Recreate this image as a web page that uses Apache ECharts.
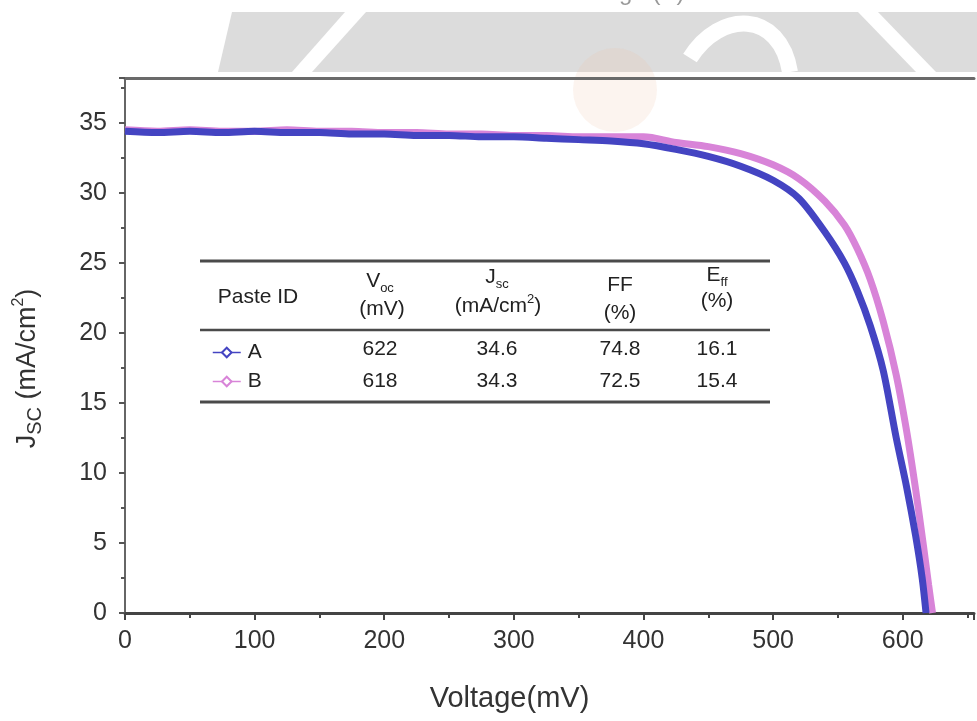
<!DOCTYPE html>
<html>
<head>
<meta charset="utf-8">
<script src="https://cdn.jsdelivr.net/npm/echarts@6/dist/echarts.min.js"></script>
<style>
  html, body { margin: 0; padding: 0; background: #fff; }
  #main { width: 977px; height: 721px; }
</style>
</head>
<body>
<div id="main"></div>
<script>
// Voltage (mV) / current density (mA/cm2)
var voltA = [0, 25, 50, 75, 100, 125, 150, 175, 200, 225, 250, 275, 300, 325, 350, 375, 400, 425, 450, 475, 500, 520, 540, 555, 565, 575, 585, 595, 603, 610, 615, 618];
var jA    = [34.4, 34.3, 34.4, 34.3, 34.4, 34.3, 34.3, 34.2, 34.2, 34.1, 34.1, 34.0, 34.0, 33.9, 33.8, 33.7, 33.5, 33.1, 32.6, 31.9, 30.9, 29.6, 27.2, 25.0, 23.0, 20.5, 17.3, 12.5, 9.0, 5.5, 2.5, 0];
var voltB = [0, 25, 50, 75, 100, 125, 150, 175, 200, 225, 250, 275, 300, 325, 350, 375, 400, 425, 450, 475, 500, 520, 540, 555, 565, 575, 585, 595, 603, 610, 616, 620, 623];
var jB    = [34.5, 34.4, 34.5, 34.4, 34.4, 34.5, 34.4, 34.4, 34.3, 34.3, 34.2, 34.2, 34.1, 34.1, 34.0, 34.0, 34.0, 33.6, 33.3, 32.8, 32.0, 31.0, 29.4, 27.7, 26.0, 23.8, 20.8, 17.0, 13.0, 8.8, 4.8, 2.0, 0];

// inset table
var pasteIds = ['A', 'B'];
var vocVals  = ['622', '618'];
var jscVals  = ['34.6', '34.3'];
var ffVals   = ['74.8', '72.5'];
var effVals  = ['16.1', '15.4'];

var FONT = '"Liberation Sans", Arial, sans-serif';
var blue = '#4444c2';
var pink = '#d884d8';

function pairs(xs, ys) {
  return xs.map(function (x, i) { return [x, ys[i]]; });
}

var chart = echarts.init(document.getElementById('main'));

// table pieces
var tableX = { id: 258, voc: 380, jsc: 497, ff: 620, eff: 717 };
var rowY = [349, 381];
var tFont = '21px ' + FONT;
var sFont = '13px ' + FONT;

function txt(x, y, s, extra) {
  var o = { type: 'text', x: x, y: y, z: 100,
    style: { text: s, font: tFont, fill: '#222', align: 'center', verticalAlign: 'middle' } };
  if (extra) o.style.rich = extra;
  return o;
}
var subRich = {
  m: { font: tFont, fill: '#222' },
  s: { font: sFont, fill: '#222', verticalAlign: 'bottom', lineHeight: 28 }
};
var supRich = {
  m: { font: tFont, fill: '#222' },
  p: { font: sFont, fill: '#222', verticalAlign: 'top', lineHeight: 26 }
};

var graphics = [
  // faded watermark above the frame
  { type: 'polygon', z: -10, shape: { points: [[232, 12], [977, 12], [977, 72], [218, 72]] }, style: { fill: '#dcdcdc' } },
  { type: 'polygon', z: -9, shape: { points: [[345, 12], [366, 12], [312, 72], [292, 72]] }, style: { fill: '#fff' } },
  { type: 'polygon', z: -9, shape: { points: [[858, 12], [878, 12], [936, 72], [916, 72]] }, style: { fill: '#fff' } },
  { type: 'bezierCurve', z: -9, shape: { x1: 690, y1: 58, cpx1: 720, cpy1: 10, cpx2: 780, cpy2: 10, x2: 790, y2: 72 },
    style: { stroke: '#fff', lineWidth: 16, fill: null } },
  { type: 'circle', z: -8, shape: { cx: 615, cy: 90, r: 42 }, style: { fill: 'rgba(238,196,166,0.18)' } },
  { type: 'text', x: 625, y: -7, z: -7, style: { text: 'Voltage (V)', font: '24px ' + FONT, fill: '#999', align: 'center', verticalAlign: 'middle' } },

  // table rules
  { type: 'line', z: 100, shape: { x1: 200, y1: 261, x2: 770, y2: 261 }, style: { stroke: '#4a4a4a', lineWidth: 3 } },
  { type: 'line', z: 100, shape: { x1: 200, y1: 330, x2: 770, y2: 330 }, style: { stroke: '#4a4a4a', lineWidth: 2.5 } },
  { type: 'line', z: 100, shape: { x1: 200, y1: 402, x2: 770, y2: 402 }, style: { stroke: '#4a4a4a', lineWidth: 3 } },

  // headers
  txt(tableX.id, 297, 'Paste ID'),
  txt(tableX.voc, 281, '{m|V}{s|oc}', subRich),
  txt(tableX.voc + 2, 309, '(mV)'),
  txt(tableX.jsc, 277, '{m|J}{s|sc}', subRich),
  txt(tableX.jsc + 1, 306, '{m|(mA/cm}{p|2}{m|)}', supRich),
  txt(tableX.ff, 285, 'FF'),
  txt(tableX.ff, 313, '(%)'),
  txt(tableX.eff, 275, '{m|E}{s|ff}', subRich),
  txt(tableX.eff, 301, '(%)')
];

for (var i = 0; i < pasteIds.length; i++) {
  graphics.push(txt(tableX.voc, rowY[i], vocVals[i]));
  graphics.push(txt(tableX.jsc, rowY[i], jscVals[i]));
  graphics.push(txt(tableX.ff, rowY[i], ffVals[i]));
  graphics.push(txt(tableX.eff, rowY[i], effVals[i]));
}

var option = {
  backgroundColor: '#fff',
  animation: false,
  textStyle: { fontFamily: FONT },
  grid: { left: 125, right: 0, top: 78, bottom: 108, containLabel: false },
  legend: {
    data: pasteIds,
    orient: 'vertical',
    left: 207,
    top: 337,
    itemGap: 8,
    itemWidth: 28,
    itemHeight: 12,
    z: 110,
    textStyle: { fontSize: 21, color: '#222', fontFamily: FONT, padding: [0, 0, 0, 2] },
    lineStyle: { width: 1.5 },
    selectedMode: false
  },
  xAxis: [{
    type: 'value',
    min: 0,
    max: 655,
    interval: 100,
    position: 'bottom',
    name: 'Voltage(mV)',
    nameLocation: 'middle',
    nameGap: 71,
    nameTextStyle: { fontSize: 29, color: '#333', fontFamily: FONT, padding: [0, 80, 0, 0] },
    axisLine: { lineStyle: { color: '#444', width: 3 } },
    axisTick: { length: 7, lineStyle: { color: '#444', width: 2 } },
    minorTick: { show: true, splitNumber: 2, length: 5, lineStyle: { color: '#444', width: 2 } },
    axisLabel: {
      margin: 16, fontSize: 25, color: '#333', fontFamily: FONT,
      formatter: function (v) { return v % 100 === 0 ? String(v) : ''; }
    },
    splitLine: { show: false }
  }, {
    type: 'value',
    min: 0,
    max: 655,
    position: 'top',
    axisLine: { lineStyle: { color: '#6a6a6a', width: 3 } },
    axisTick: { show: false },
    axisLabel: { show: false },
    splitLine: { show: false }
  }],
  yAxis: {
    type: 'value',
    min: 0,
    max: 38.2,
    interval: 5,
    name: '{m|J}{s|SC}{m| (mA/cm}{p|2}{m|)}',
    nameLocation: 'middle',
    nameGap: 80,
    nameTextStyle: {
      color: '#333',
      padding: [0, 46, 0, 0],
      rich: {
        m: { fontSize: 27, color: '#333', fontFamily: FONT, lineHeight: 34 },
        s: { fontSize: 20, color: '#333', fontFamily: FONT, verticalAlign: 'bottom', lineHeight: 34 },
        p: { fontSize: 16, color: '#333', fontFamily: FONT, verticalAlign: 'top', lineHeight: 34 }
      }
    },
    axisLine: { show: true, lineStyle: { color: '#666', width: 2 } },
    axisTick: { show: true, length: 6, lineStyle: { color: '#555', width: 2 } },
    minorTick: { show: true, splitNumber: 2, length: 4, lineStyle: { color: '#555', width: 2 } },
    axisLabel: {
      margin: 18, fontSize: 25, color: '#333', fontFamily: FONT,
      formatter: function (v) { return v % 5 === 0 ? String(v) : ''; }
    },
    splitLine: { show: false }
  },
  series: [{
    name: 'B',
    type: 'line',
    data: pairs(voltB, jB),
    smooth: 0.3,
    symbol: 'emptyDiamond',
    symbolSize: 9,
    showSymbol: false,
    lineStyle: { color: pink, width: 7 },
    itemStyle: { color: pink, borderWidth: 1.5 },
    z: 2
  }, {
    name: 'A',
    type: 'line',
    data: pairs(voltA, jA),
    smooth: 0.3,
    symbol: 'emptyDiamond',
    symbolSize: 9,
    showSymbol: false,
    lineStyle: { color: blue, width: 7 },
    itemStyle: { color: blue, borderWidth: 1.5 },
    z: 3
  }],
  graphic: graphics
};

chart.setOption(option);
</script>
</body>
</html>
